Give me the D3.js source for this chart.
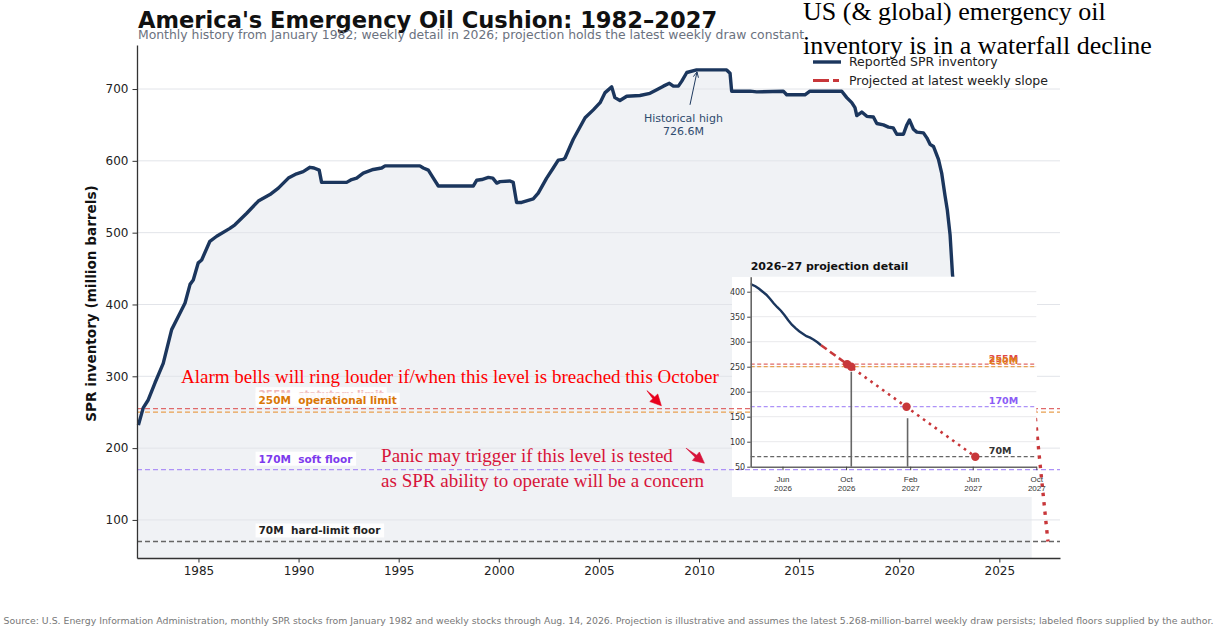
<!DOCTYPE html>
<html><head><meta charset="utf-8">
<script src="https://cdn.jsdelivr.net/npm/d3@7"></script>
<style>html,body{margin:0;padding:0;background:#fff;} svg{display:block;font-family:"DejaVu Sans",sans-serif;} .pre{white-space:pre;}</style>
</head><body><svg id="c" width="1217" height="643"></svg>
<script>
// ---------------- DATA ----------------
const histYears = [1982.00,1982.24,1982.49,1982.83,1983.24,1983.66,1984.08,1984.33,1984.58,1984.74,1984.99,1985.16,1985.57,1985.91,1986.57,1986.82,1987.41,1987.99,1988.57,1988.99,1989.49,1989.90,1990.23,1990.57,1990.77,1991.03,1991.15,1992.40,1992.65,1992.90,1993.23,1993.73,1994.15,1994.32,1996.06,1996.23,1996.48,1996.73,1996.98,1998.73,1998.90,1999.15,1999.48,1999.70,1999.90,2000.06,2000.56,2000.72,2000.89,2001.14,2001.72,2001.97,2002.39,2002.72,2002.97,2003.22,2003.31,2003.56,2003.72,2004.31,2004.72,2005.06,2005.31,2005.64,2005.80,2006.05,2006.39,2007.05,2007.55,2007.89,2008.22,2008.52,2008.72,2008.97,2009.14,2009.39,2009.88,2011.38,2011.55,2011.63,2012.55,2012.88,2014.21,2014.38,2015.29,2015.54,2017.13,2017.38,2017.63,2017.79,2017.88,2018.13,2018.38,2018.71,2018.88,2019.21,2019.46,2019.70,2019.88,2020.21,2020.38,2020.51,2020.71,2020.88,2021.21,2021.38,2021.54,2021.71,2021.96,2022.12,2022.29,2022.40,2022.54,2022.66,2022.80,2022.95,2023.20,2023.50,2023.90,2024.40,2024.90,2025.40,2025.90];
const histValues = [232,256,267,291,318,365,388,402,428,434,458,462,488,495,506,511,527,544,553,562,576,582,585,591,590,587,570,570,574,576,583,588,590,593,593,590,587,576,565,565,573,574,577,576,569,571,572,570,542,542,547,555,576,590,601,602,604,620,630,660,671,681,695,703,688,684,690,691,694,699,704,708,704,704,711,723,726.6,726.6,722,697,697,696,697,692,692,697,697,688,681,674,663,668,662,661,652,650,647,646,637,637,650,657,644,640,639,632,623,620,602,583,551,532,497,442,405,375,365,347,354,372,393,403,412];

const weekDates = ["2026-03-06","2026-03-13","2026-03-20","2026-03-27","2026-04-03","2026-04-10","2026-04-17","2026-04-24","2026-05-01","2026-05-08","2026-05-15","2026-05-22","2026-05-29","2026-06-05","2026-06-12","2026-06-19","2026-06-26","2026-07-03","2026-07-10","2026-07-17","2026-07-24","2026-07-31","2026-08-07","2026-08-14"];
const weekValues = [416,417,418,417,414,411,406,400,394,386,377,369,362,353,343,334,327,321,316,311,308,304,299,293];

const projDates = ["2026-08-14","2026-10-03","2027-06-06"];
const projValues = [293,255,70];

const levelValues = [255,250,170,70];
const levelNames = ["statutory limit","operational limit","soft floor","hard-limit floor"];

const markerDates = ["2026-10-03","2026-10-11","2027-01-25","2027-06-06"];
const markerValues = [255,250,170,70];
const stemDates = ["2026-10-11","2027-01-27"];
const stemTops = [240,147];

const yTicks = [100,200,300,400,500,600,700];
const xTicks = [1985,1990,1995,2000,2005,2010,2015,2020,2025];
const insetYTicks = [50,100,150,200,250,300,350,400];
const insetXTicks = ["2026-06-01","2026-10-01","2027-02-01","2027-06-01","2027-10-01"];
const peakYear = 2009.9, peakValue = 726.6;

// ---------------- STYLE ----------------
const NAVY = "#1b365d", PROJ = "#c8373a";
const lvlLine = ["#e06a6a","#e8a050","#ad92f7","#666"];
const lvlText = ["#e07070","#d97706","#7c3aed","#222"];
const insetLvlText = ["#e04848","#e0801c","#8b5cf6","#333"];

const parse = d3.utcParse("%Y-%m-%d");
function toYear(d){const y=d.getUTCFullYear();const s=Date.UTC(y,0,1),e=Date.UTC(y+1,0,1);return y+(d-s)/(e-s);}

const svg = d3.select("#c");
const X = d3.scaleLinear().domain([1981.93,2028.03]).range([137,1060]);
const Y = d3.scaleLinear().domain([47,761.3]).range([558,45]);

const series = histYears.map((y,i)=>({x:y,v:histValues[i]}))
  .concat(weekDates.map((d,i)=>({x:toYear(parse(d)),v:weekValues[i]})));

// fill
svg.append("path").datum(series)
  .attr("d", d3.area().x(d=>X(d.x)).y0(Y.range()[0]).y1(d=>Y(d.v)))
  .attr("fill","#f0f2f5");

// grid
svg.append("g").selectAll("line").data(yTicks).join("line")
  .attr("x1",X.range()[0]).attr("x2",X.range()[1])
  .attr("y1",d=>Y(d)).attr("y2",d=>Y(d))
  .attr("stroke","#e2e4e9").attr("stroke-width",1);

// white backing box for inset
svg.append("rect").attr("x",732).attr("y",277).attr("width",305).attr("height",220).attr("fill","#fff");

// main reference lines
svg.append("g").selectAll("line").data(levelValues).join("line")
  .attr("x1",X.range()[0]).attr("x2",X.range()[1])
  .attr("y1",d=>Y(d)).attr("y2",d=>Y(d))
  .attr("stroke",(d,i)=>lvlLine[i]).attr("stroke-width",1.3)
  .attr("stroke-dasharray","5 3");

// main line
svg.append("path").datum(series)
  .attr("d", d3.line().x(d=>X(d.x)).y(d=>Y(d.v)))
  .attr("fill","none").attr("stroke",NAVY).attr("stroke-width",3.4).attr("stroke-linejoin","round");

// main projection
const projPts = projDates.map((d,i)=>({x:toYear(parse(d)),v:projValues[i]}));
const mainLine = d3.line().x(d=>X(d.x)).y(d=>Y(d.v));
svg.append("path").datum(projPts.slice(0,2)).attr("d",mainLine)
  .attr("fill","none").attr("stroke",PROJ).attr("stroke-width",3.2).attr("stroke-dasharray","9 5");
svg.append("path").datum(projPts.slice(1)).attr("d",mainLine)
  .attr("fill","none").attr("stroke",PROJ).attr("stroke-width",3.4).attr("stroke-dasharray","3.4 6");

// level labels with white boxes
function boxedLabel(g, x, y, txt, color, op, boxOp){
  const gg = g.append("g");
  const t = gg.append("text").attr("class","pre").attr("x",x).attr("y",y).attr("fill",color).attr("opacity",op)
    .attr("font-size","10.5px").attr("font-weight","bold").text(txt);
  const b = t.node().getBBox();
  gg.insert("rect","text").attr("x",b.x-3).attr("y",b.y-1).attr("width",b.width+6).attr("height",b.height+2)
    .attr("fill","#fff").attr("opacity",boxOp);
  return gg;
}
const labG = svg.append("g");
const labOffsets = [10.5, 8.5, 7, 7];
levelValues.forEach((v,i)=>{
  boxedLabel(labG, X(1988), Y(v)-labOffsets[i], v+"M  "+levelNames[i], lvlText[i], i===0?0.5:1, 0.88);
});

// historical high annotation
const ax0 = X(2009.55), ay0 = Y(678), ax1 = X(peakYear), ay1 = Y(peakValue)+2;
svg.append("line").attr("x1",ax0).attr("y1",ay0).attr("x2",ax1).attr("y2",ay1).attr("stroke","#1f3a5f").attr("stroke-width",1);
(function(){const a=Math.atan2(ay1-ay0,ax1-ax0);const L=6;
 const p1=[ax1-L*Math.cos(a-0.45),ay1-L*Math.sin(a-0.45)],p2=[ax1-L*Math.cos(a+0.45),ay1-L*Math.sin(a+0.45)];
 svg.append("path").attr("d",`M${p1}L${ax1},${ay1}L${p2}`).attr("fill","none").attr("stroke","#1f3a5f").attr("stroke-width",1);})();
const hh = svg.append("text").attr("text-anchor","middle").attr("font-size","11px").attr("fill","#2f4b6e");
hh.append("tspan").attr("x",X(2009.22)).attr("y",Y(654)).text("Historical high");
hh.append("tspan").attr("x",X(2009.22)).attr("y",Y(636)).text(peakValue.toFixed(1)+"M");

// axes
const yAxis = svg.append("g").attr("transform",`translate(${X.range()[0]},0)`)
  .call(d3.axisLeft(Y).tickValues(yTicks).tickSize(4.5).tickPadding(4).tickSizeOuter(0));
const xAxis = svg.append("g").attr("transform",`translate(0,${Y.range()[0]})`)
  .call(d3.axisBottom(X).tickValues(xTicks).tickFormat(d3.format("d")).tickSize(4.5).tickPadding(4).tickSizeOuter(0));
[yAxis,xAxis].forEach(a=>{
  a.selectAll("text").attr("font-size","12px").attr("fill","#222").attr("font-family","DejaVu Sans");
  a.selectAll(".tick line").attr("stroke","#333");
  a.select(".domain").attr("stroke","#333").attr("stroke-width",1.3);
});
svg.append("text").attr("transform",`translate(96,${(185+422)/2}) rotate(-90)`).attr("text-anchor","middle")
  .attr("font-size","13.6px").attr("font-weight","bold").attr("fill","#111").text("SPR inventory (million barrels)");

// ---------------- INSET ----------------
const IL=750.7, IR=1036.3, IT=276.7, IB=466.7;
const IX = d3.scaleUtc().domain([parse("2026-04-01"),parse("2027-10-01")]).range([IL,IR]);
const IY = d3.scaleLinear().domain([50,430]).range([IB,IT]);
svg.append("rect").attr("x",IL).attr("y",IT).attr("width",IR-IL).attr("height",IB-IT).attr("fill","#fff");
svg.append("defs").append("clipPath").attr("id","ic").append("rect").attr("x",IL).attr("y",IT-2).attr("width",IR-IL).attr("height",IB-IT+2);
const ig = svg.append("g");
ig.selectAll("line.g").data(insetYTicks.filter(d=>d>50)).join("line")
  .attr("x1",IL).attr("x2",IR).attr("y1",d=>IY(d)).attr("y2",d=>IY(d)).attr("stroke","#e9e9ec").attr("stroke-width",1);
ig.selectAll("line.l").data(levelValues).join("line")
  .attr("x1",IL).attr("x2",IR).attr("y1",d=>IY(d)).attr("y2",d=>IY(d))
  .attr("stroke",(d,i)=>lvlLine[i]).attr("stroke-width",1.2).attr("stroke-dasharray","4 2.5");
ig.selectAll("text.l").data(levelValues).join("text")
  .attr("x",IX(parse("2027-07-02"))).attr("y",d=>IY(d)-2.5)
  .attr("fill",(d,i)=>insetLvlText[i]).attr("font-size","9.5px").attr("font-weight","bold").text(d=>d+"M");
// stems
ig.selectAll("line.s").data(stemDates).join("line")
  .attr("x1",d=>IX(parse(d))).attr("x2",d=>IX(parse(d))).attr("y1",IB).attr("y2",(d,i)=>IY(stemTops[i]))
  .attr("stroke","#666").attr("stroke-width",1.6);
// weekly line
const wk = weekDates.map((d,i)=>({d:parse(d),v:weekValues[i]}));
const iline = d3.line().x(d=>IX(d.d)).y(d=>IY(d.v));
ig.append("path").datum(wk).attr("d",iline).attr("clip-path","url(#ic)")
  .attr("fill","none").attr("stroke",NAVY).attr("stroke-width",2.4);
const ipj = projDates.map((d,i)=>({d:parse(d),v:projValues[i]}));
ig.append("path").datum(ipj.slice(0,2)).attr("d",iline).attr("fill","none").attr("stroke",PROJ).attr("stroke-width",2.6).attr("stroke-dasharray","7 4");
ig.append("path").datum(ipj.slice(1)).attr("d",iline).attr("fill","none").attr("stroke",PROJ).attr("stroke-width",2.6).attr("stroke-dasharray","2.6 4.6");
ig.selectAll("circle").data(markerDates).join("circle")
  .attr("cx",d=>IX(parse(d))).attr("cy",(d,i)=>IY(markerValues[i])).attr("r",4.2).attr("fill",PROJ);
// inset axes
const iya = ig.append("g").attr("transform",`translate(${IL},0)`)
  .call(d3.axisLeft(IY).tickValues(insetYTicks).tickSize(3.5).tickPadding(2).tickSizeOuter(0));
const ixa = ig.append("g").attr("transform",`translate(0,${IB})`)
  .call(d3.axisBottom(IX).tickValues(insetXTicks.map(parse)).tickSize(3.5).tickSizeOuter(0).tickFormat(""));
[iya,ixa].forEach(a=>{a.select(".domain").attr("stroke","#666").attr("stroke-width",1.6);a.selectAll(".tick line").attr("stroke","#444");});
iya.selectAll("text").attr("font-size","8px").attr("fill","#333").attr("font-family","DejaVu Sans");
ixa.selectAll(".tick").each(function(d){
  const t = d3.select(this).append("text").attr("text-anchor","middle").attr("font-size","8px").attr("fill","#333");
  t.append("tspan").attr("x",0).attr("y",15).text(d3.utcFormat("%b")(d));
  t.append("tspan").attr("x",0).attr("y",24.5).text(d3.utcFormat("%Y")(d));
});
svg.append("text").attr("x",IL).attr("y",270).attr("font-size","11px").attr("font-weight","bold").attr("fill","#111").text("2026–27 projection detail");

// ---------------- TITLES / LEGEND / NOTES ----------------
svg.append("text").attr("x",138).attr("y",28).attr("font-size","22.6px").attr("font-weight","bold").attr("fill","#111")
  .text("America's Emergency Oil Cushion: 1982–2027");
svg.append("text").attr("x",138).attr("y",39).attr("font-size","12.4px").attr("fill","#6b7280")
  .text("Monthly history from January 1982; weekly detail in 2026; projection holds the latest weekly draw constant.");

const lg = svg.append("g");
lg.append("line").attr("x1",813).attr("x2",841).attr("y1",62).attr("y2",62).attr("stroke",NAVY).attr("stroke-width",3.4);
lg.append("line").attr("x1",813).attr("x2",841).attr("y1",80.5).attr("y2",80.5).attr("stroke",PROJ).attr("stroke-width",3.2).attr("stroke-dasharray","16 4 6 10");
lg.append("text").attr("x",849).attr("y",66.3).attr("font-size","12.5px").attr("fill","#222").text("Reported SPR inventory");
lg.append("text").attr("x",849).attr("y",84.8).attr("font-size","12.5px").attr("fill","#222").text("Projected at latest weekly slope");

const big = svg.append("text").attr("font-family","'Liberation Serif','Times New Roman',serif").attr("font-size","26px").attr("fill","#000");
big.append("tspan").attr("x",803).attr("y",20).text("US (& global) emergency oil");
big.append("tspan").attr("x",803).attr("y",54).text("inventory is in a waterfall decline");

function fancyArrow(x0,y0,x1,y1,color){
  const dx=x1-x0, dy=y1-y0, L=Math.hypot(dx,dy), ux=dx/L, uy=dy/L, px=-uy, py=ux;
  const hl=11, hw=5.5, sw=1.3;
  const bx=x1-ux*hl, by=y1-uy*hl;
  const pts=[[x0,y0],[bx+px*sw,by+py*sw],[bx+px*hw,by+py*hw],[x1,y1],[bx-px*hw,by-py*hw],[bx-px*sw,by-py*sw]];
  svg.append("path").attr("d","M"+pts.map(p=>p.join(",")).join("L")+"Z").attr("fill",color).attr("stroke",color).attr("stroke-width",0.6);
}
const serif = "'Liberation Serif','Times New Roman',serif";
svg.append("text").attr("x",X(1984.13)).attr("y",Y(290.5)).attr("font-family",serif).attr("font-size","19px").attr("fill","#ff0000")
  .text("Alarm bells will ring louder if/when this level is breached this October");
fancyArrow(X(2007.4),Y(280),X(2008.12),Y(259),"#e8001c");
const pt = svg.append("text").attr("font-family",serif).attr("font-size","19px").attr("fill","#d7143a");
pt.append("tspan").attr("x",X(1994.12)).attr("y",Y(180.5)).text("Panic may trigger if this level is tested");
pt.append("tspan").attr("x",X(1994.12)).attr("y",Y(146)).text("as SPR ability to operate will be a concern");
fancyArrow(X(2009.35),Y(200),X(2010.27),Y(179),"#d7143a");

svg.append("text").attr("x",608.5).attr("y",624).attr("text-anchor","middle").attr("font-size","9.35px").attr("fill","#777")
  .text("Source: U.S. Energy Information Administration, monthly SPR stocks from January 1982 and weekly stocks through Aug. 14, 2026. Projection is illustrative and assumes the latest 5.268-million-barrel weekly draw persists; labeled floors supplied by the author.");
</script></body></html>
